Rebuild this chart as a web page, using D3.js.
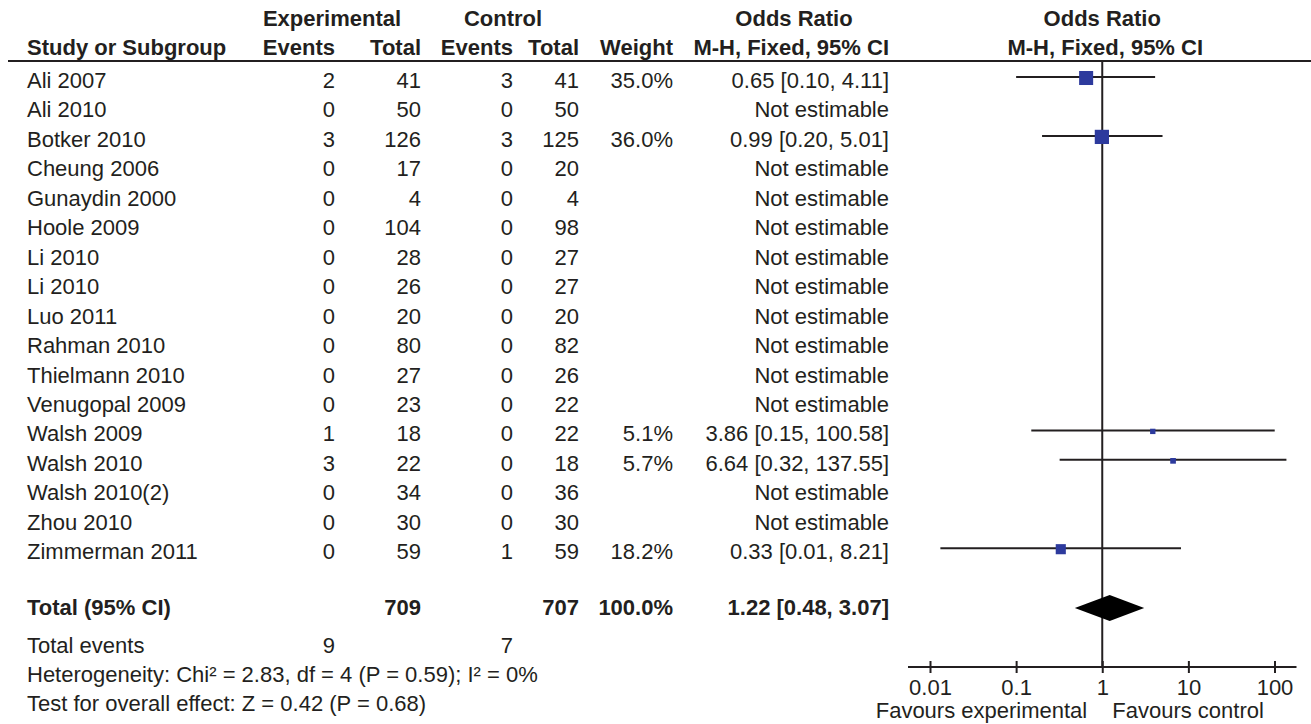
<!DOCTYPE html>
<html>
<head>
<meta charset="utf-8">
<script src="https://cdn.jsdelivr.net/npm/d3@7"></script>
<style>
  body { margin: 0; background: #fff; }
  text { font-family: "Liberation Sans", Arial, sans-serif; fill: #231f20; }
</style>
</head>
<body>
<div id="chart"></div>
<script>
// study rows
const studies = ["Ali 2007", "Ali 2010", "Botker 2010", "Cheung 2006", "Gunaydin 2000", "Hoole 2009",
  "Li 2010", "Li 2010", "Luo 2011", "Rahman 2010", "Thielmann 2010", "Venugopal 2009",
  "Walsh 2009", "Walsh 2010", "Walsh 2010(2)", "Zhou 2010", "Zimmerman 2011"];
const expEvents = [2, 0, 3, 0, 0, 0, 0, 0, 0, 0, 0, 0, 1, 3, 0, 0, 0];
const expTotal = [41, 50, 126, 17, 4, 104, 28, 26, 20, 80, 27, 23, 18, 22, 34, 30, 59];
const ctrlEvents = [3, 0, 3, 0, 0, 0, 0, 0, 0, 0, 0, 0, 0, 0, 0, 0, 1];
const ctrlTotal = [41, 50, 125, 20, 4, 98, 27, 27, 20, 82, 26, 22, 22, 18, 36, 30, 59];
const weights = [35.0, null, 36.0, null, null, null, null, null, null, null, null, null, 5.1, 5.7, null, null, 18.2];
const oddsRatio = [0.65, null, 0.99, null, null, null, null, null, null, null, null, null, 3.86, 6.64, null, null, 0.33];
const ciLow = [0.10, null, 0.20, null, null, null, null, null, null, null, null, null, 0.15, 0.32, null, null, 0.0132];
const ciHigh = [4.11, null, 5.01, null, null, null, null, null, null, null, null, null, 100.58, 137.55, null, null, 8.21];

// pooled result
const totalExp = 709, totalCtrl = 707, totalWeight = 100.0;
const totalEventsExp = 9, totalEventsCtrl = 7;
const pooledOR = 1.22, pooledLow = 0.48, pooledHigh = 3.07;
const heterogeneity = "Heterogeneity: Chi² = 2.83, df = 4 (P = 0.59); I² = 0%";
const overallEffect = "Test for overall effect: Z = 0.42 (P = 0.68)";

const tickValues = [0.01, 0.1, 1, 10, 100];
const tickLabels = ["0.01", "0.1", "1", "10", "100"];
const favours = ["Favours experimental", "Favours control"];

const W = 1311, H = 724;
const fs = 22;
const ink = "#231f20";
const blue = "#2d3a9d";

const svg = d3.select("#chart").append("svg")
    .attr("width", W)
    .attr("height", H);

// column right edges
const col = { name: 27, expE: 335, expT: 421, ctrlE: 513, ctrlT: 579, weight: 673, or: 889 };

// row positions
const rowY = d3.scaleLinear().domain([0, 1]).range([77, 77 + 29.45]);
const x = d3.scaleLog().domain([0.01, 100]).range([930, 1274.5]);

function txt(xp, yp, s, anchor, bold) {
  return svg.append("text")
      .attr("x", xp)
      .attr("y", yp)
      .attr("text-anchor", anchor || "start")
      .attr("font-size", fs)
      .attr("font-weight", bold ? "bold" : null)
      .text(s);
}

// headers
txt(332, 26, "Experimental", "middle", true);
txt(503, 26, "Control", "middle", true);
txt(794, 26, "Odds Ratio", "middle", true);
txt(x(1), 26, "Odds Ratio", "middle", true);
txt(col.name, 55, "Study or Subgroup", "start", true);
txt(col.expE, 55, "Events", "end", true);
txt(col.expT, 55, "Total", "end", true);
txt(col.ctrlE, 55, "Events", "end", true);
txt(col.ctrlT, 55, "Total", "end", true);
txt(col.weight, 55, "Weight", "end", true);
txt(col.or, 55, "M-H, Fixed, 95% CI", "end", true);
txt(x(1) + 3, 55, "M-H, Fixed, 95% CI", "middle", true);

svg.append("line")
    .attr("x1", 8).attr("x2", W)
    .attr("y1", 61).attr("y2", 61)
    .attr("stroke", ink).attr("stroke-width", 2);

// study rows
const rows = svg.append("g").selectAll("g")
    .data(studies.map((s, i) => ({ i, s })))
    .enter().append("g");

rows.each(function (d) {
  const i = d.i, yb = rowY(i) + 11;
  txt(col.name, yb, d.s);
  txt(col.expE, yb, expEvents[i], "end");
  txt(col.expT, yb, expTotal[i], "end");
  txt(col.ctrlE, yb, ctrlEvents[i], "end");
  txt(col.ctrlT, yb, ctrlTotal[i], "end");
  if (weights[i] != null) txt(col.weight, yb, weights[i].toFixed(1) + "%", "end");
  const label = oddsRatio[i] == null ? "Not estimable"
    : `${oddsRatio[i].toFixed(2)} [${ciLow[i].toFixed(2)}, ${ciHigh[i].toFixed(2)}]`;
  txt(col.or, yb, label, "end");
});

// null line
svg.append("line")
    .attr("x1", x(1)).attr("x2", x(1))
    .attr("y1", 61).attr("y2", 667)
    .attr("stroke", ink).attr("stroke-width", 2);

// CI lines and squares
const est = studies.map((s, i) => i).filter(i => oddsRatio[i] != null);

svg.append("g").selectAll("line")
    .data(est).enter().append("line")
    .attr("x1", i => x(ciLow[i]))
    .attr("x2", i => x(ciHigh[i]))
    .attr("y1", i => rowY(i))
    .attr("y2", i => rowY(i))
    .attr("stroke", ink)
    .attr("stroke-width", 2);

const sq = i => 2.37 * Math.sqrt(weights[i]);
svg.append("g").selectAll("rect")
    .data(est).enter().append("rect")
    .attr("x", i => x(oddsRatio[i]) - sq(i) / 2)
    .attr("y", i => rowY(i) - sq(i) / 2 + 1)
    .attr("width", sq)
    .attr("height", sq)
    .attr("fill", blue);

// total row
const ty = 615;
txt(col.name, ty, "Total (95% CI)", "start", true);
txt(col.expT, ty, totalExp, "end", true);
txt(col.ctrlT, ty, totalCtrl, "end", true);
txt(col.weight, ty, totalWeight.toFixed(1) + "%", "end", true);
txt(col.or, ty, `${pooledOR.toFixed(2)} [${pooledLow.toFixed(2)}, ${pooledHigh.toFixed(2)}]`, "end", true);

const dy = 608;
svg.append("path")
    .attr("d", `M${x(pooledLow)},${dy} L${x(pooledOR)},${dy - 13} L${x(pooledHigh)},${dy} L${x(pooledOR)},${dy + 13} Z`)
    .attr("fill", "#000");

txt(col.name, 653, "Total events");
txt(col.expE, 653, totalEventsExp, "end");
txt(col.ctrlE, 653, totalEventsCtrl, "end");
txt(col.name, 682, heterogeneity);
txt(col.name, 711, overallEffect);

// axis
const axisY = 667;
svg.append("line")
    .attr("x1", x(0.01) - 22).attr("x2", x(100) + 22)
    .attr("y1", axisY).attr("y2", axisY)
    .attr("stroke", ink).attr("stroke-width", 2);

const ax = svg.append("g")
    .attr("transform", `translate(0,${axisY})`)
    .call(d3.axisBottom(x)
      .tickValues(tickValues)
      .tickFormat((d, i) => tickLabels[i])
      .tickSize(6)
      .tickPadding(6));
ax.select(".domain").remove();
ax.selectAll(".tick line")
    .attr("y1", -6)
    .attr("stroke", ink)
    .attr("stroke-width", 2);
ax.selectAll(".tick text")
    .attr("font-size", fs)
    .attr("font-family", "Liberation Sans, Arial, sans-serif")
    .attr("fill", ink);

txt(x(1) - 15, 718, favours[0], "end");
txt(x(1) + 10, 718, favours[1], "start");
</script>
</body>
</html>
